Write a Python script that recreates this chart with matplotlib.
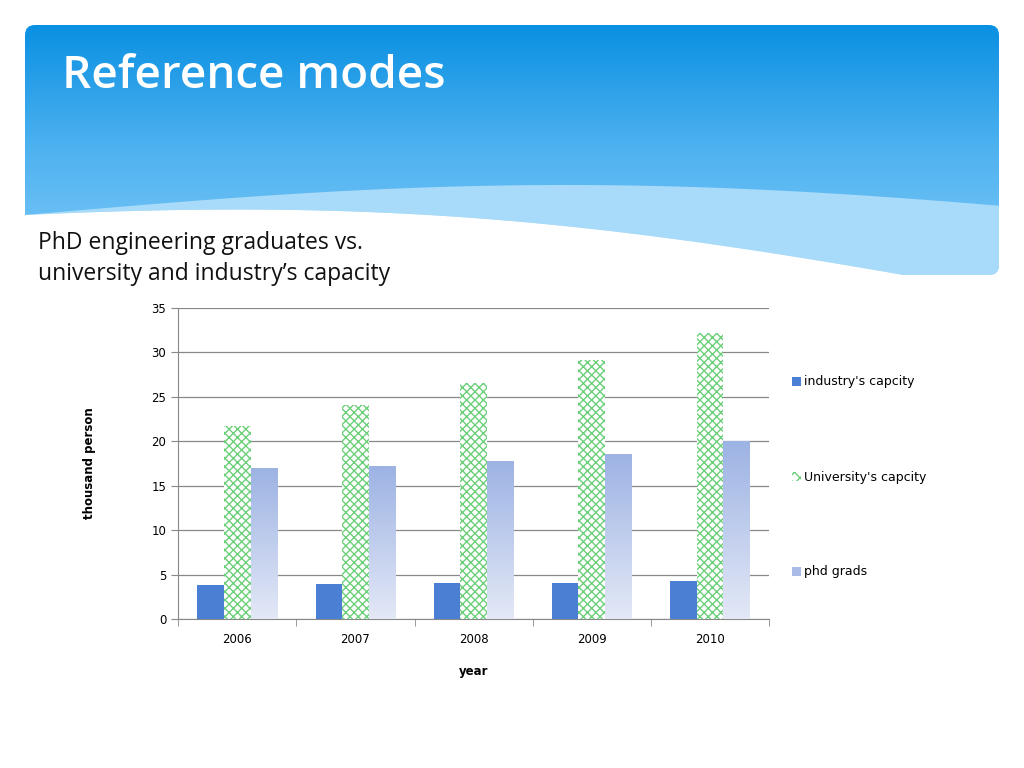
import matplotlib
matplotlib.use("Agg")
import matplotlib.pyplot as plt
import numpy as np
from matplotlib.patches import FancyBboxPatch, Rectangle, Polygon

years = ["2006", "2007", "2008", "2009", "2010"]
industry = [3.8, 3.9, 4.0, 4.1, 4.3]
university = [21.7, 24.1, 26.6, 29.2, 32.2]
phd = [17.0, 17.2, 17.8, 18.6, 20.0]

fig = plt.figure(figsize=(10.24, 7.68), dpi=100)
bg = fig.add_axes([0, 0, 1, 1])
bg.set_xlim(0, 1024); bg.set_ylim(768, 0); bg.axis("off")

clip = FancyBboxPatch((25, 25), 974, 250, boxstyle="round,pad=0,rounding_size=10",
                      transform=bg.transData, facecolor="none", edgecolor="none")
bg.add_patch(clip)
grad = np.linspace(0, 1, 256).reshape(-1, 1)
cmap = matplotlib.colors.LinearSegmentedColormap.from_list("b", ["#0a90e2", "#4fb2f0", "#7fcaf7"])
im = bg.imshow(grad, extent=[25, 999, 275, 25], cmap=cmap, aspect="auto", zorder=1)
im.set_clip_path(clip)

xs = np.linspace(25, 999, 300)
t = (xs - 25) / 974
y_top = 215 - 30*np.sin(np.pi*t*0.9)
y_low = 215 - 12*np.sin(np.pi*t*1.2) + 70*t**2
band = np.vstack([np.column_stack([xs, y_top]), np.column_stack([xs[::-1], y_low[::-1]])])
p1 = Polygon(band, closed=True, facecolor="#a8dbf9", edgecolor="none", zorder=2)
bg.add_patch(p1); p1.set_clip_path(clip)
white = np.vstack([np.column_stack([xs, y_low]), [[999, 290], [25, 290]]])
p2 = Polygon(white, closed=True, facecolor="white", edgecolor="none", zorder=3)
bg.add_patch(p2)
bg.text(62, 77, "Reference modes", fontsize=33, color="white",
        fontfamily="Open Sans", fontweight="semibold", va="center", zorder=4)
bg.text(38, 243, "PhD engineering graduates vs.", fontsize=16.5, color="#111111", va="center", fontfamily="Open Sans", zorder=4)
bg.text(38, 274, "university and industry\u2019s capacity", fontsize=16.5, color="#111111", va="center", fontfamily="Open Sans", zorder=4)

ax = fig.add_axes([0.174, 0.194, 0.577, 0.405])
x = np.arange(len(years))
w = 0.225
ax.bar(x - w, industry, w, color="#4a7fd4", zorder=3)
ax.bar(x, university, w, facecolor="white", edgecolor="#6cd07a", hatch="xxxx", linewidth=0, zorder=3)
gcm = matplotlib.colors.LinearSegmentedColormap.from_list("g", ["#e3e8f6", "#9db3e4"])
for xi, v in zip(x, phd):
    r = Rectangle((xi + w/2, 0), w, v, facecolor="none", edgecolor="none")
    ax.add_patch(r)
    g = ax.imshow(np.linspace(0, 1, 100).reshape(-1, 1), extent=[xi + w/2, xi + 1.5*w, 0, v],
                  origin="lower", cmap=gcm, aspect="auto", zorder=3)
    g.set_clip_path(r)
ax.set_xlim(-0.5, 4.5); ax.set_ylim(0, 35)
ax.set_aspect("auto")
ax.set_yticks(range(0, 36, 5))
ax.set_xticks(x); ax.set_xticklabels(years)
ax.set_xticks(np.arange(-0.5, 5, 1), minor=True)
ax.tick_params(axis="x", which="major", length=0, pad=10, labelsize=8.5)
ax.tick_params(axis="x", which="minor", length=5, color="#888888")
ax.tick_params(axis="y", length=5, color="#888888", labelsize=8.5)
ax.grid(axis="y", color="#888888", linewidth=0.9, zorder=0)
for s in ["top", "right"]:
    ax.spines[s].set_visible(False)
ax.spines["left"].set_color("#888888"); ax.spines["bottom"].set_color("#888888")
ax.set_ylabel("thousand person", fontsize=8.5, fontweight="bold", labelpad=40)
ax.set_xlabel("year", fontsize=8.5, fontweight="bold", labelpad=14)

bg.add_patch(Rectangle((792, 377), 9, 9, facecolor="#4a7fd4", zorder=5))
bg.text(804, 382, "industry's capcity", fontsize=9, va="center")
bg.add_patch(Rectangle((792, 472), 9, 9, facecolor="white", edgecolor="#6cd07a", hatch="xxx", linewidth=0, zorder=5))
bg.text(804, 477, "University's capcity", fontsize=9, va="center")
bg.add_patch(Rectangle((792, 567), 9, 9, facecolor="#a9bbe6", zorder=5))
bg.text(804, 572, "phd grads", fontsize=9, va="center")

fig.savefig("out.png", dpi=100)
